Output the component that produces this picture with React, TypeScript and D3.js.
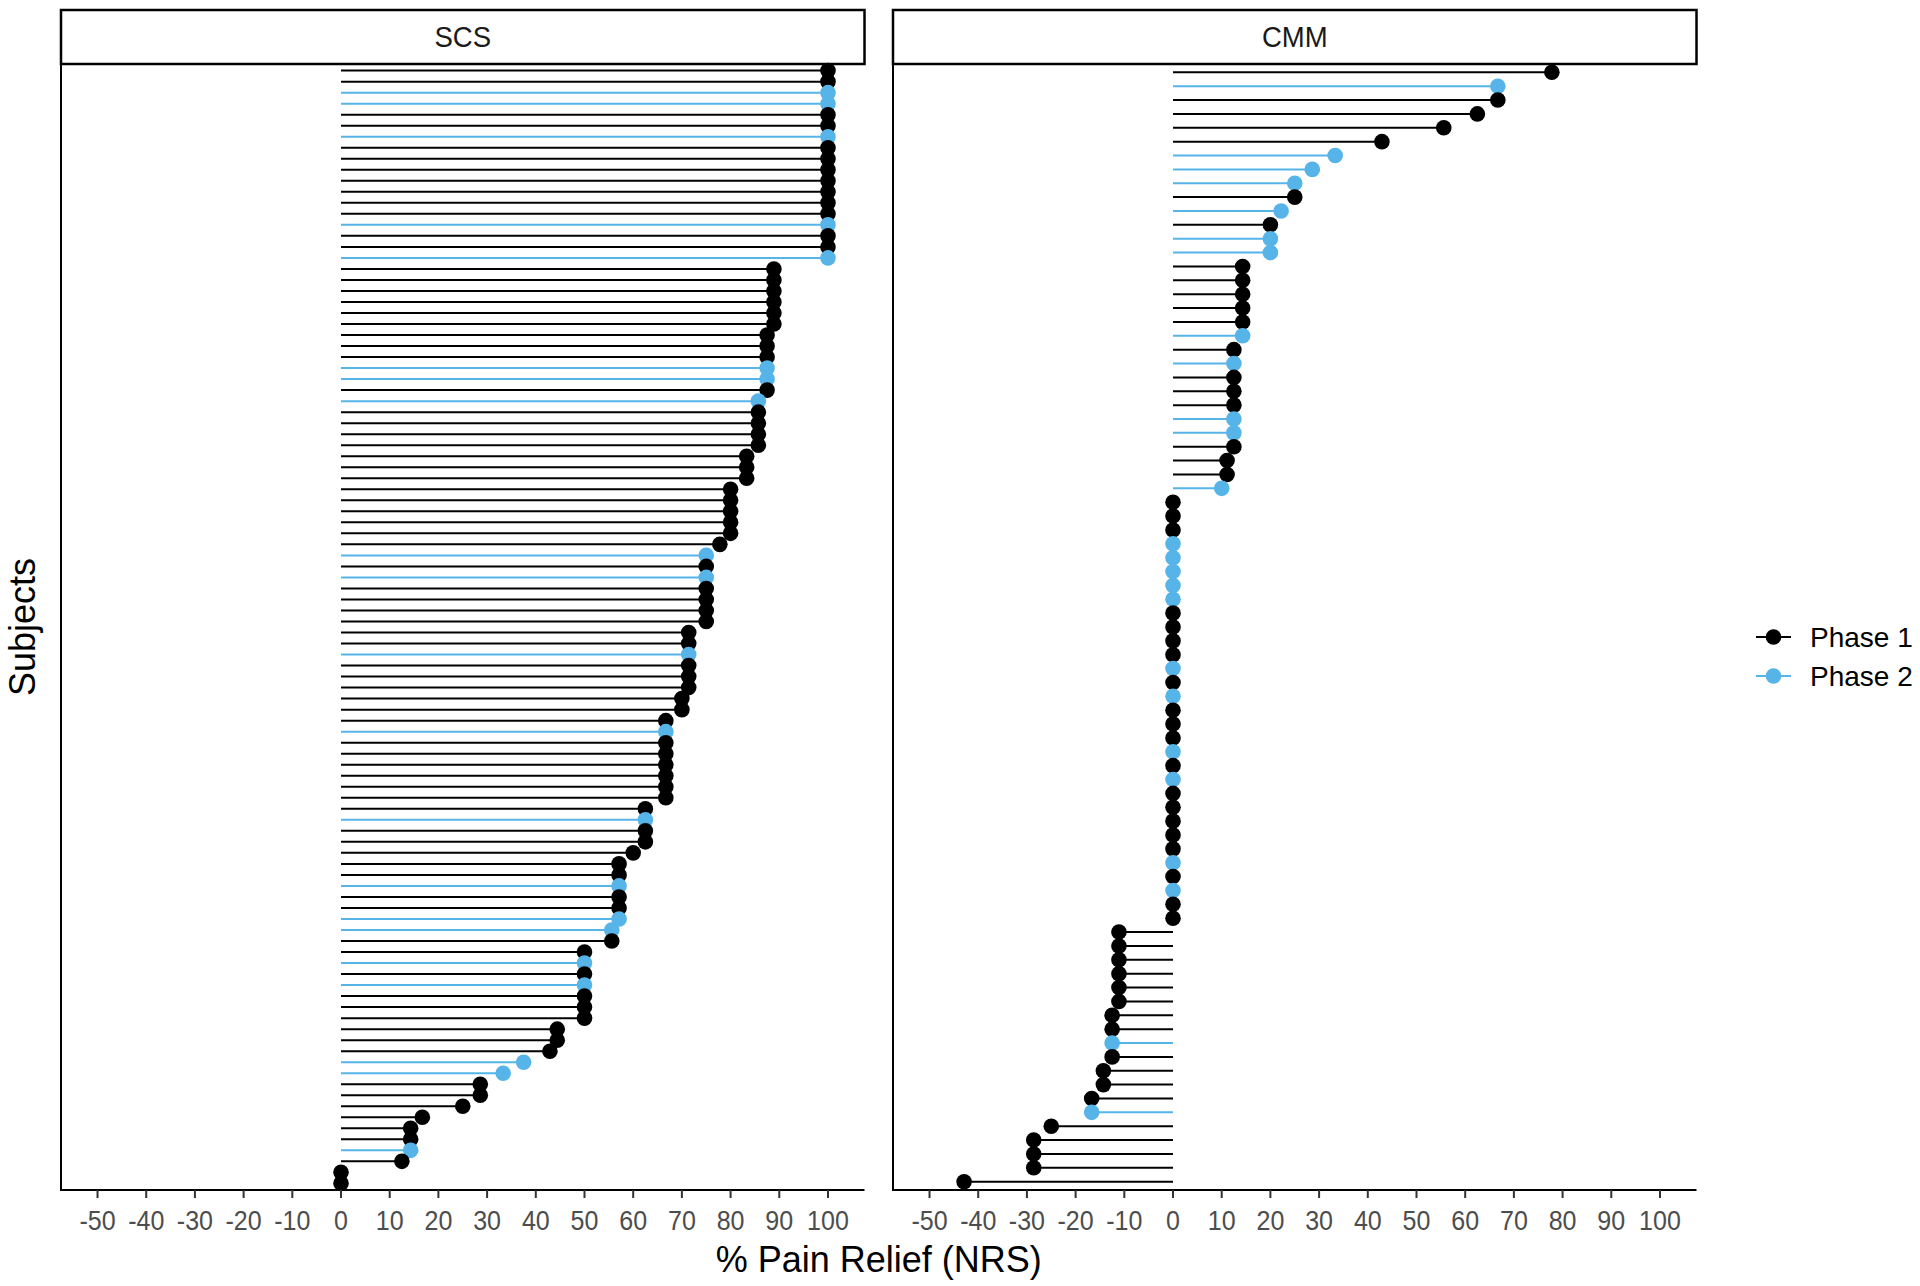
import React from 'react';
import * as d3 from 'd3';

// SCS subjects, top to bottom
const scsValues = [
  100, 100, 100, 100, 100, 100, 100, 100, 100, 100, 100, 100, 100, 100, 100, 100, 100, 100,
  88.9, 88.9, 88.9, 88.9, 88.9, 88.9,
  87.5, 87.5, 87.5, 87.5, 87.5, 87.5,
  85.7, 85.7, 85.7, 85.7, 85.7,
  83.3, 83.3, 83.3,
  80, 80, 80, 80, 80,
  77.8,
  75, 75, 75, 75, 75, 75, 75,
  71.4, 71.4, 71.4, 71.4, 71.4, 71.4,
  70, 70,
  66.7, 66.7, 66.7, 66.7, 66.7, 66.7, 66.7, 66.7,
  62.5, 62.5, 62.5, 62.5,
  60,
  57.1, 57.1, 57.1, 57.1, 57.1, 57.1,
  55.6, 55.6,
  50, 50, 50, 50, 50, 50, 50,
  44.4, 44.4,
  42.9,
  37.5,
  33.3,
  28.6, 28.6,
  25,
  16.7,
  14.3, 14.3, 14.3,
  12.5,
  0, 0,
];
const scsPhase = [
  1, 1, 2, 2, 1, 1, 2, 1, 1, 1, 1, 1, 1, 1, 2, 1, 1, 2,
  1, 1, 1, 1, 1, 1,
  1, 1, 1, 2, 2, 1,
  2, 1, 1, 1, 1,
  1, 1, 1,
  1, 1, 1, 1, 1,
  1,
  2, 1, 2, 1, 1, 1, 1,
  1, 1, 2, 1, 1, 1,
  1, 1,
  1, 2, 1, 1, 1, 1, 1, 1,
  1, 2, 1, 1,
  1,
  1, 1, 2, 1, 1, 2,
  2, 1,
  1, 2, 1, 2, 1, 1, 1,
  1, 1,
  1,
  2,
  2,
  1, 1,
  1,
  1,
  1, 1, 2,
  1,
  1, 1,
];

// CMM subjects, top to bottom
const cmmValues = [
  77.8, 66.7, 66.7, 62.5, 55.6, 42.9, 33.3, 28.6, 25, 25, 22.2, 20, 20, 20,
  14.3, 14.3, 14.3, 14.3, 14.3, 14.3,
  12.5, 12.5, 12.5, 12.5, 12.5, 12.5, 12.5, 12.5,
  11.1, 11.1, 10,
  0, 0, 0, 0, 0, 0, 0, 0, 0, 0, 0, 0, 0, 0, 0, 0, 0, 0, 0, 0, 0, 0, 0, 0, 0, 0, 0, 0, 0, 0, 0,
  -11.1, -11.1, -11.1, -11.1, -11.1, -11.1,
  -12.5, -12.5, -12.5, -12.5,
  -14.3, -14.3,
  -16.7, -16.7,
  -25,
  -28.6, -28.6, -28.6,
  -42.9,
];
const cmmPhase = [
  1, 2, 1, 1, 1, 1, 2, 2, 2, 1, 2, 1, 2, 2,
  1, 1, 1, 1, 1, 2,
  1, 2, 1, 1, 1, 2, 2, 1,
  1, 1, 2,
  1, 1, 1, 2, 2, 2, 2, 2, 1, 1, 1, 1, 2, 1, 2, 1, 1, 1, 2, 1, 2, 1, 1, 1, 1, 1, 2, 1, 2, 1, 1,
  1, 1, 1, 1, 1, 1,
  1, 1, 2, 1,
  1, 1,
  1, 2,
  1,
  1, 1, 1,
  1,
];

const panelNames = ['SCS', 'CMM'];
const xTicks = [-50, -40, -30, -20, -10, 0, 10, 20, 30, 40, 50, 60, 70, 80, 90, 100];
const phaseLabels = ['Phase 1', 'Phase 2'];
const phaseColors = ['#000000', '#56B4E9'];

const FONT = '"Liberation Sans", Arial, sans-serif';
const PANEL_TOP = 64;
const PANEL_BOTTOM = 1190;
const STRIP_TOP = 10;
const panelsX: [number, number][] = [
  [61, 864.5],
  [893, 1696.5],
];
const R = 7.8;

function Panel({ idx, values, phases }: { idx: number; values: number[]; phases: number[] }) {
  const [x0, x1] = panelsX[idx];
  const x = d3.scaleLinear().domain([-57.5, 107.5]).range([x0, x1]);
  const y = d3
    .scalePoint<number>()
    .domain(values.map((_, i) => i))
    .range([PANEL_TOP, PANEL_BOTTOM])
    .padding(0.6);
  return (
    <g>
      {/* strip */}
      <rect
        x={x0}
        y={STRIP_TOP}
        width={x1 - x0}
        height={PANEL_TOP - STRIP_TOP}
        fill="#ffffff"
        stroke="#000000"
        strokeWidth={2.5}
      />
      <text
        transform={`translate(${(x0 + x1) / 2}, ${(STRIP_TOP + PANEL_TOP) / 2}) scale(0.95, 1)`}
        dy="0.36em"
        textAnchor="middle"
        fontFamily={FONT}
        fontSize={29}
        fill="#1A1A1A"
      >
        {panelNames[idx]}
      </text>
      {/* segments */}
      {values.map((v, i) => (
        <line
          key={'s' + i}
          x1={x(0)}
          x2={x(v)}
          y1={y(i)}
          y2={y(i)}
          stroke={phaseColors[phases[i] - 1]}
          strokeWidth={2}
        />
      ))}
      {/* points */}
      {values.map((v, i) => (
        <circle key={'p' + i} cx={x(v)} cy={y(i)} r={R} fill={phaseColors[phases[i] - 1]} />
      ))}
      {/* axes */}
      <line x1={x0} x2={x0} y1={PANEL_TOP} y2={PANEL_BOTTOM + 1} stroke="#000" strokeWidth={2} />
      <line x1={x0 - 1} x2={x1} y1={PANEL_BOTTOM} y2={PANEL_BOTTOM} stroke="#000" strokeWidth={2.2} />
      {xTicks.map((t) => (
        <g key={'t' + t}>
          <line x1={x(t)} x2={x(t)} y1={PANEL_BOTTOM} y2={PANEL_BOTTOM + 8} stroke="#333333" strokeWidth={2} />
          <text
            transform={`translate(${x(t)}, 1230) scale(0.91, 1)`}
            textAnchor="middle"
            fontFamily={FONT}
            fontSize={27.5}
            fill="#4D4D4D"
          >
            {t}
          </text>
        </g>
      ))}
    </g>
  );
}

export default function App() {
  return (
    <svg
      width={1920}
      height={1286}
      style={{ position: 'absolute', left: 0, top: 0, background: '#fff' }}
    >
      <rect x={0} y={0} width={1920} height={1286} fill="#fff" />
      <Panel idx={0} values={scsValues} phases={scsPhase} />
      <Panel idx={1} values={cmmValues} phases={cmmPhase} />
      <text
        x={(panelsX[0][0] + panelsX[1][1]) / 2}
        y={1272}
        textAnchor="middle"
        fontFamily={FONT}
        fontSize={36}
        fill="#000"
      >
        % Pain Relief (NRS)
      </text>
      <text
        transform={`translate(35, ${(PANEL_TOP + PANEL_BOTTOM) / 2}) rotate(-90)`}
        textAnchor="middle"
        fontFamily={FONT}
        fontSize={36}
        fill="#000"
      >
        Subjects
      </text>
      {phaseLabels.map((lab, i) => (
        <g key={lab} transform={`translate(0, ${637 + i * 39})`}>
          <line x1={1756} x2={1791} y1={0} y2={0} stroke={phaseColors[i]} strokeWidth={2} />
          <circle cx={1773.5} cy={0} r={R} fill={phaseColors[i]} />
          <text x={1810} y={0} dy="0.36em" fontFamily={FONT} fontSize={28} fill="#000">
            {lab}
          </text>
        </g>
      ))}
    </svg>
  );
}
